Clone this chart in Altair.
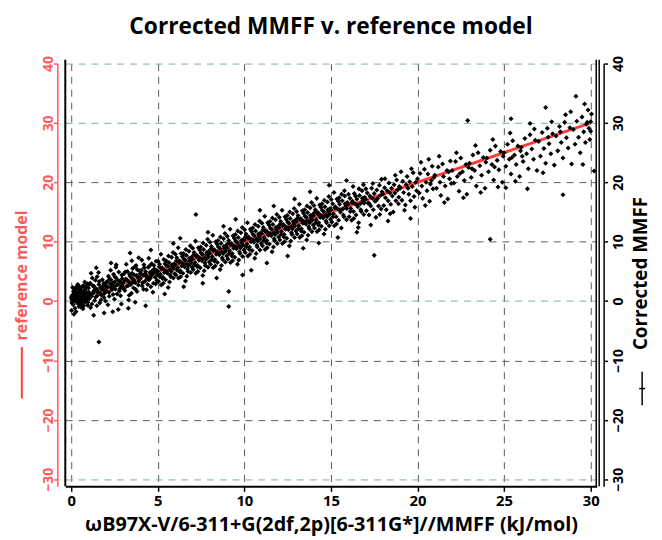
import altair as alt
import pandas as pd

TITLE = "Corrected MMFF v. reference model"
X_TITLE = "ωB97X-V/6-311+G(2df,2p)[6-311G*]//MMFF (kJ/mol)"
LEFT_TITLE = "reference model"
RIGHT_TITLE = "Corrected MMFF"
x_ticks = [0, 5, 10, 15, 20, 25, 30]
y_ticks = [-30, -20, -10, 0, 10, 20, 30, 40]

# reference model line
ref_x = [0, 30]
ref_y = [0, 30]

# Corrected MMFF points
pts_00 = [(0.05,0.2),(0.1,1.1),(0.12,-0.6),(0.15,0.5),(0.2,1.8),(0.22,-1.2),(0.25,0.9),(0.3,0.0),(0.3,2.4),(0.35,-0.3),(0.4,1.4),(0.42,0.6),(0.45,-0.9),(0.5,2.1),(0.5,0.3),(0.55,1.0),(0.6,-0.5),(0.6,1.7),(0.65,0.8),(0.7,2.6),(0.7,0.1),(0.75,1.3),(0.8,-0.2),(0.8,2.0),(0.85,0.7),(0.9,1.5),(0.95,-0.7),(0.95,2.9),(0.02,-1.6),(0.08,2.3),(0.18,0.0),(0.28,-1.8),(0.33,1.2),(0.38,2.8),(0.48,-0.1),(0.58,0.4),(0.68,-1.3),(0.78,3.2),(0.88,0.2),(0.98,1.0),(0.03,0.8),(0.13,1.6),(0.23,2.0),(0.43,-0.4),(0.53,1.5),(0.63,2.4),(0.73,-0.8),(0.83,1.1),(0.93,0.5),(0.04,-0.3),(0.16,-2.2),(0.26,1.4),(0.36,0.3),(0.46,2.5),(0.56,-1.0),(0.66,0.0),(0.76,0.9),(0.86,2.2),(0.96,-0.2),(0.01,0.5),(0.11,0.0),(0.21,0.7),(0.31,1.0),(0.41,2.0),(0.51,-0.6),(0.61,0.9),(0.71,1.6),(0.81,0.3),(0.91,2.7)]
pts_01 = [(1.0,2.2),(1.05,0.4),(1.1,3.0),(1.15,1.2),(1.2,-0.5),(1.25,2.6),(1.3,1.7),(1.35,0.1),(1.4,3.5),(1.45,2.0),(1.5,0.9),(1.5,4.1),(1.55,1.5),(1.6,2.8),(1.65,-0.3),(1.7,2.3),(1.75,1.0),(1.8,3.6),(1.85,1.9),(1.9,0.6),(1.95,2.7),(1.02,1.5),(1.12,-1.1),(1.22,3.9),(1.32,2.5),(1.42,0.7),(1.52,1.9),(1.62,3.3),(1.72,0.2),(1.82,2.5),(1.92,1.3),(1.08,2.9),(1.18,0.8),(1.28,1.4),(1.38,2.2),(1.48,-0.8),(1.58,4.8),(1.68,1.3),(1.78,2.0),(1.88,3.0),(1.98,0.0),(1.3,-2.4),(1.6,-6.9),(1.9,-2.0),(1.45,5.6),(1.15,4.7)]
pts_02 = [(2.0,3.1),(2.05,1.6),(2.1,2.4),(2.15,4.2),(2.2,0.8),(2.25,2.9),(2.3,6.4),(2.3,3.6),(2.35,1.9),(2.4,2.6),(2.45,4.5),(2.5,0.3),(2.5,3.2),(2.55,2.0),(2.6,3.9),(2.65,1.2),(2.7,2.8),(2.75,4.9),(2.8,3.4),(2.85,0.9),(2.9,2.5),(2.95,3.8),(2.02,2.2),(2.12,-0.6),(2.22,3.7),(2.32,2.3),(2.42,1.1),(2.52,4.1),(2.62,2.7),(2.72,-1.4),(2.82,2.1),(2.92,4.4),(2.08,3.3),(2.18,1.5),(2.28,5.2),(2.38,3.0),(2.48,2.2),(2.58,5.7),(2.68,3.5),(2.78,1.7),(2.88,3.1),(2.98,2.4),(2.4,-1.8),(2.9,-0.5),(2.6,6.1)]
pts_03 = [(3.0,3.0),(3.05,4.6),(3.1,1.8),(3.15,3.7),(3.2,2.5),(3.25,5.0),(3.3,3.3),(3.35,1.0),(3.4,8.1),(3.4,4.2),(3.45,2.8),(3.5,3.9),(3.55,5.5),(3.6,2.2),(3.65,4.4),(3.7,3.1),(3.75,6.0),(3.8,1.6),(3.85,4.0),(3.9,3.4),(3.95,5.1),(3.02,2.1),(3.12,4.9),(3.22,3.6),(3.32,0.2),(3.42,2.9),(3.52,4.7),(3.62,3.5),(3.72,2.0),(3.82,5.3),(3.92,3.9),(3.08,3.5),(3.18,6.2),(3.28,2.6),(3.38,4.5),(3.48,1.3),(3.58,3.2),(3.68,5.8),(3.78,4.3),(3.88,2.7),(3.98,4.6),(3.3,-1.2),(3.7,-0.2),(3.9,7.3),(3.5,6.8)]
pts_04 = [(4.0,3.8),(4.05,5.2),(4.1,2.6),(4.15,4.4),(4.2,6.1),(4.25,3.3),(4.3,5.0),(4.35,1.9),(4.4,4.1),(4.45,5.7),(4.5,3.6),(4.55,4.8),(4.6,2.4),(4.65,6.3),(4.7,4.5),(4.75,3.0),(4.8,5.4),(4.85,4.0),(4.9,6.7),(4.95,3.5),(4.02,4.7),(4.12,3.1),(4.22,5.6),(4.32,4.2),(4.42,2.8),(4.52,5.9),(4.62,4.3),(4.72,1.5),(4.82,4.9),(4.92,5.2),(4.08,6.9),(4.18,2.0),(4.28,4.6),(4.38,3.7),(4.48,7.2),(4.58,3.9),(4.68,5.1),(4.78,6.0),(4.88,2.9),(4.98,4.5),(4.3,-0.8),(4.6,8.6)]
pts_05 = [(5.0,5.0),(5.05,3.3),(5.1,6.2),(5.15,4.5),(5.2,2.7),(5.25,5.6),(5.3,4.0),(5.35,7.0),(5.4,5.2),(5.45,3.6),(5.5,6.0),(5.55,4.7),(5.6,2.3),(5.65,6.5),(5.7,5.3),(5.75,4.1),(5.8,7.4),(5.85,5.8),(5.9,3.9),(5.95,6.3),(5.02,6.7),(5.12,4.1),(5.22,5.4),(5.32,3.0),(5.42,6.3),(5.52,5.0),(5.62,7.6),(5.72,4.4),(5.82,6.1),(5.92,5.5),(5.08,5.8),(5.18,7.9),(5.28,3.8),(5.38,4.8),(5.48,6.8),(5.58,5.9),(5.68,3.2),(5.78,5.0),(5.88,8.2),(5.98,4.6),(5.9,9.7),(5.4,1.2)]
pts_06 = [(6.0,6.1),(6.05,4.4),(6.1,7.3),(6.15,5.6),(6.2,3.9),(6.25,6.8),(6.3,5.1),(6.35,8.0),(6.4,6.4),(6.45,4.7),(6.5,7.1),(6.55,5.8),(6.6,3.4),(6.65,7.7),(6.7,6.3),(6.75,5.0),(6.8,8.4),(6.85,6.8),(6.9,4.8),(6.95,7.4),(6.02,7.9),(6.12,5.2),(6.22,6.5),(6.32,4.1),(6.42,7.5),(6.52,6.1),(6.62,8.7),(6.72,5.4),(6.82,7.2),(6.92,6.4),(6.08,6.8),(6.18,9.0),(6.28,4.9),(6.38,5.9),(6.48,8.0),(6.58,6.9),(6.68,4.2),(6.78,6.0),(6.88,9.3),(6.98,5.7),(6.5,2.4),(6.3,10.6)]
pts_07 = [(7.0,7.0),(7.05,5.3),(7.1,8.2),(7.15,6.5),(7.2,4.7),(7.25,7.7),(7.3,6.0),(7.35,9.0),(7.4,7.3),(7.45,5.6),(7.5,8.1),(7.55,6.8),(7.6,4.3),(7.65,8.7),(7.7,7.3),(7.75,6.0),(7.8,9.4),(7.85,7.8),(7.9,5.7),(7.95,8.4),(7.02,8.9),(7.12,6.1),(7.22,7.5),(7.32,5.0),(7.42,8.6),(7.52,7.1),(7.62,9.8),(7.72,6.4),(7.82,8.2),(7.92,7.4),(7.08,7.8),(7.18,10.1),(7.28,5.8),(7.38,6.9),(7.48,9.1),(7.58,7.9),(7.68,5.1),(7.78,7.0),(7.88,10.4),(7.98,6.6),(7.2,14.6),(7.6,3.0),(7.9,11.6)]
pts_08 = [(8.0,8.0),(8.05,6.2),(8.1,9.2),(8.15,7.5),(8.2,5.6),(8.25,8.7),(8.3,7.0),(8.35,10.0),(8.4,8.3),(8.45,6.5),(8.5,9.1),(8.55,7.8),(8.6,5.3),(8.65,9.7),(8.7,8.3),(8.75,7.0),(8.8,10.5),(8.85,8.8),(8.9,6.6),(8.95,9.4),(8.02,9.9),(8.12,7.0),(8.22,8.5),(8.32,5.9),(8.42,9.6),(8.52,8.1),(8.62,10.8),(8.72,7.3),(8.82,9.2),(8.92,8.4),(8.08,8.8),(8.18,11.1),(8.28,6.7),(8.38,7.9),(8.48,10.2),(8.58,8.9),(8.68,6.0),(8.78,8.0),(8.88,11.4),(8.98,7.6),(8.4,3.9),(8.8,12.6)]
pts_09 = [(9.0,9.0),(9.05,7.1),(9.1,10.2),(9.15,8.5),(9.2,6.5),(9.25,9.7),(9.3,8.0),(9.35,11.0),(9.4,9.3),(9.45,7.4),(9.5,10.1),(9.55,8.8),(9.6,6.2),(9.65,10.7),(9.7,9.3),(9.75,8.0),(9.8,11.5),(9.85,9.8),(9.9,7.5),(9.95,10.4),(9.02,10.9),(9.12,8.0),(9.22,9.5),(9.32,6.8),(9.42,10.6),(9.52,9.1),(9.62,11.8),(9.72,8.3),(9.82,10.2),(9.92,9.4),(9.08,9.8),(9.18,12.1),(9.28,7.6),(9.38,8.9),(9.48,11.2),(9.58,9.9),(9.68,6.9),(9.78,9.0),(9.88,12.4),(9.98,8.6),(9.1,1.6),(9.1,-0.9),(9.9,4.4),(9.5,13.8)]
pts_10 = [(10.0,10.3),(10.05,8.2),(10.1,11.3),(10.15,9.6),(10.2,7.6),(10.25,10.8),(10.3,9.1),(10.35,12.1),(10.4,10.4),(10.45,8.5),(10.5,11.2),(10.55,9.9),(10.6,7.2),(10.65,11.8),(10.7,10.4),(10.75,9.1),(10.8,12.6),(10.85,10.9),(10.9,8.6),(10.95,11.5),(10.02,12.0),(10.12,9.1),(10.22,10.6),(10.32,7.9),(10.42,11.7),(10.52,10.2),(10.62,12.9),(10.72,9.4),(10.82,11.3),(10.92,10.5),(10.08,10.9),(10.18,13.2),(10.28,8.7),(10.38,10.0),(10.48,12.3),(10.58,11.0),(10.68,8.0),(10.78,10.1),(10.88,13.5),(10.98,9.7),(10.4,5.2),(10.9,15.3)]
pts_11 = [(11.0,11.4),(11.05,9.3),(11.1,12.4),(11.15,10.7),(11.2,8.7),(11.25,11.9),(11.3,10.2),(11.35,13.2),(11.4,11.5),(11.45,9.6),(11.5,12.3),(11.55,11.0),(11.6,8.3),(11.65,12.9),(11.7,11.5),(11.75,10.2),(11.8,13.7),(11.85,12.0),(11.9,9.7),(11.95,12.6),(11.02,13.1),(11.12,10.2),(11.22,11.7),(11.32,9.0),(11.42,12.8),(11.52,11.3),(11.62,14.0),(11.72,10.5),(11.82,12.4),(11.92,11.6),(11.08,12.0),(11.18,14.3),(11.28,9.8),(11.38,11.1),(11.48,13.4),(11.58,12.1),(11.68,9.1),(11.78,11.2),(11.88,14.6),(11.98,10.8),(11.3,6.4),(11.7,16.0)]
pts_12 = [(12.0,12.4),(12.05,10.3),(12.1,13.4),(12.15,11.7),(12.2,9.7),(12.25,12.9),(12.3,11.2),(12.35,14.2),(12.4,12.5),(12.45,10.6),(12.5,13.3),(12.55,12.0),(12.6,9.3),(12.65,13.9),(12.7,12.5),(12.75,11.2),(12.8,14.7),(12.85,13.0),(12.9,10.7),(12.95,13.6),(12.02,14.1),(12.12,11.2),(12.22,12.7),(12.32,10.0),(12.42,13.8),(12.52,12.3),(12.62,15.0),(12.72,11.5),(12.82,13.4),(12.92,12.6),(12.08,13.0),(12.18,15.3),(12.28,10.8),(12.38,12.1),(12.48,14.4),(12.58,13.1),(12.68,10.1),(12.78,12.2),(12.88,15.6),(12.98,11.8),(12.5,7.6),(12.9,17.2)]
pts_13 = [(13.0,13.4),(13.05,11.3),(13.1,14.4),(13.15,12.7),(13.2,10.7),(13.25,13.9),(13.3,12.2),(13.35,15.2),(13.4,13.5),(13.45,11.6),(13.5,14.3),(13.55,13.0),(13.6,10.3),(13.65,14.9),(13.7,13.5),(13.75,12.2),(13.8,15.7),(13.85,14.0),(13.9,11.7),(13.95,14.6),(13.02,15.1),(13.12,12.2),(13.22,13.7),(13.32,11.0),(13.42,14.8),(13.52,13.3),(13.62,16.0),(13.72,12.5),(13.82,14.4),(13.92,13.6),(13.08,14.0),(13.18,16.3),(13.28,11.8),(13.38,13.1),(13.48,15.4),(13.58,14.1),(13.68,11.1),(13.78,13.2),(13.88,16.6),(13.98,12.8),(13.4,8.9),(13.8,18.4)]
pts_14 = [(14.0,14.4),(14.05,12.3),(14.1,15.4),(14.15,13.7),(14.2,11.7),(14.25,14.9),(14.3,13.2),(14.35,16.2),(14.4,14.5),(14.45,12.6),(14.5,15.3),(14.55,14.0),(14.6,11.3),(14.65,15.9),(14.7,14.5),(14.75,13.2),(14.8,16.7),(14.85,15.0),(14.9,12.7),(14.95,15.6),(14.02,16.1),(14.12,13.2),(14.22,14.7),(14.32,12.0),(14.42,15.8),(14.52,14.3),(14.62,17.0),(14.72,13.5),(14.82,15.4),(14.92,14.6),(14.08,15.0),(14.18,17.3),(14.28,12.8),(14.38,14.1),(14.48,16.4),(14.58,15.1),(14.68,12.1),(14.78,14.2),(14.88,17.6),(14.98,13.8),(14.3,9.8),(14.9,19.5)]
pts_15 = [(15.0,15.4),(15.05,13.3),(15.1,16.4),(15.15,14.7),(15.2,12.7),(15.25,15.9),(15.3,14.2),(15.35,17.2),(15.4,15.5),(15.45,13.6),(15.5,16.3),(15.55,15.0),(15.6,12.3),(15.65,16.9),(15.7,15.5),(15.75,14.2),(15.8,17.7),(15.85,16.0),(15.9,13.7),(15.95,16.6),(15.02,17.1),(15.12,14.2),(15.22,15.7),(15.32,13.0),(15.42,16.8),(15.52,15.3),(15.62,18.0),(15.72,14.5),(15.82,16.4),(15.92,15.6),(15.18,18.3),(15.48,17.4),(15.78,18.6),(15.4,10.7),(15.9,20.3)]
pts_16 = [(16.0,16.3),(16.05,14.2),(16.1,17.3),(16.15,15.6),(16.2,13.6),(16.25,16.8),(16.3,15.1),(16.35,18.1),(16.4,16.4),(16.45,14.5),(16.5,17.2),(16.55,15.9),(16.6,13.2),(16.65,17.8),(16.7,16.4),(16.75,15.1),(16.8,18.6),(16.85,16.9),(16.9,14.6),(16.95,17.5),(16.02,18.0),(16.12,15.1),(16.22,16.6),(16.32,13.9),(16.42,17.7),(16.52,16.2),(16.62,18.9),(16.72,15.4),(16.82,17.3),(16.92,16.5),(16.28,19.3),(16.58,12.4),(16.88,19.6),(16.5,11.6)]
pts_17 = [(17.0,17.1),(17.05,15.2),(17.1,18.2),(17.15,16.5),(17.2,14.5),(17.25,17.7),(17.3,16.0),(17.35,19.0),(17.4,17.3),(17.45,15.4),(17.5,18.1),(17.55,16.8),(17.6,14.1),(17.65,18.7),(17.7,17.3),(17.75,16.0),(17.8,19.5),(17.85,17.8),(17.9,15.5),(17.95,18.4),(17.02,18.9),(17.22,16.4),(17.42,19.8),(17.62,17.0),(17.82,14.6),(17.92,20.5),(17.5,7.7),(17.3,12.8)]
pts_18 = [(18.0,18.0),(18.05,16.1),(18.1,19.1),(18.15,17.4),(18.2,15.4),(18.25,18.6),(18.3,16.9),(18.35,19.9),(18.4,18.2),(18.45,16.3),(18.5,19.0),(18.55,17.7),(18.6,15.0),(18.65,19.6),(18.7,18.2),(18.75,16.9),(18.8,20.4),(18.85,18.7),(18.9,16.4),(18.95,19.3),(18.12,20.6),(18.42,14.7),(18.72,21.2),(18.92,17.5),(18.3,13.5)]
pts_19 = [(19.0,19.0),(19.1,17.0),(19.15,20.2),(19.2,18.3),(19.3,16.2),(19.35,19.6),(19.4,21.0),(19.5,18.0),(19.55,20.1),(19.6,16.9),(19.7,19.3),(19.75,21.6),(19.8,17.6),(19.9,20.0),(19.95,18.6),(19.05,21.8),(19.25,15.3),(19.45,19.0),(19.65,22.3),(19.85,15.8),(19.6,13.9)]
pts_20 = [(20.0,20.6),(20.1,18.2),(20.15,21.5),(20.25,19.4),(20.3,17.3),(20.4,22.2),(20.5,20.0),(20.55,18.6),(20.6,21.4),(20.7,16.8),(20.75,19.7),(20.85,22.7),(20.9,18.9),(20.95,20.8),(20.2,23.4),(20.45,16.1),(20.65,23.9),(20.8,20.3)]
pts_21 = [(21.0,21.2),(21.1,19.0),(21.2,22.6),(21.3,20.0),(21.35,17.8),(21.45,23.1),(21.5,21.0),(21.6,19.4),(21.7,22.0),(21.75,17.2),(21.85,20.6),(21.9,23.6),(21.95,19.8),(21.25,24.4),(21.55,16.6),(21.8,21.8)]
pts_22 = [(22.0,22.0),(22.1,19.9),(22.2,23.5),(22.3,21.0),(22.4,18.5),(22.5,24.1),(22.6,21.8),(22.7,20.3),(22.8,23.0),(22.85,18.0),(22.95,22.5),(22.25,25.0),(22.65,17.4),(22.9,30.4),(22.45,21.5)]
pts_23 = [(23.0,23.2),(23.1,20.8),(23.2,24.6),(23.3,22.0),(23.4,19.4),(23.5,25.0),(23.6,22.8),(23.7,21.2),(23.8,24.2),(23.9,19.0),(23.35,26.2),(23.65,18.3),(23.95,23.4),(23.15,22.3)]
pts_24 = [(24.0,24.1),(24.1,21.8),(24.2,25.4),(24.3,23.0),(24.4,20.4),(24.5,26.1),(24.6,23.7),(24.7,22.1),(24.8,25.2),(24.9,20.0),(24.35,27.2),(24.65,19.2),(24.95,24.4),(24.2,10.4),(24.45,22.6)]
pts_25 = [(25.0,25.0),(25.1,22.7),(25.2,26.4),(25.3,23.9),(25.4,21.4),(25.5,27.0),(25.6,24.6),(25.7,23.0),(25.8,26.1),(25.9,21.0),(25.35,28.3),(25.65,20.2),(25.95,25.3),(25.1,19.1),(25.45,24.2)]
pts_26 = [(26.0,25.9),(26.1,23.5),(26.2,27.4),(26.3,24.8),(26.4,22.3),(26.5,28.0),(26.6,25.6),(26.7,23.9),(26.8,27.1),(26.9,22.0),(26.35,18.9),(26.5,29.9),(26.75,29.0),(26.05,24.4),(25.4,30.7)]
pts_27 = [(27.0,26.9),(27.1,24.4),(27.2,28.4),(27.3,25.7),(27.4,23.2),(27.5,29.1),(27.6,26.5),(27.7,24.8),(27.8,28.2),(27.9,22.9),(27.4,32.6),(27.75,30.2),(27.25,21.6),(27.55,27.6)]
pts_28 = [(28.0,27.8),(28.1,25.3),(28.2,29.4),(28.3,26.7),(28.4,24.1),(28.5,30.1),(28.6,27.5),(28.7,25.8),(28.8,29.2),(28.9,23.1),(28.4,17.9),(28.55,31.4),(28.85,31.9),(28.25,28.5)]
pts_29 = [(29.0,28.9),(29.1,26.4),(29.15,34.5),(29.2,30.3),(29.3,27.6),(29.4,25.0),(29.5,31.0),(29.55,23.0),(29.6,28.5),(29.7,26.7),(29.8,30.1),(29.85,32.2),(29.9,29.1),(29.95,27.2),(30.0,30.2),(30.0,28.6),(30.05,31.5),(30.2,21.9),(29.65,33.2),(29.75,29.8)]

all_bins = [pts_00, pts_01, pts_02, pts_03, pts_04, pts_05, pts_06, pts_07, pts_08, pts_09,
            pts_10, pts_11, pts_12, pts_13, pts_14, pts_15, pts_16, pts_17, pts_18, pts_19,
            pts_20, pts_21, pts_22, pts_23, pts_24, pts_25, pts_26, pts_27, pts_28, pts_29]
points = [p for b in all_bins for p in b]
df_pts = pd.DataFrame(points, columns=["x", "y"])
df_ref = pd.DataFrame({"x": ref_x, "y": ref_y})
one = pd.DataFrame({"d": [0]})

RED = "#ff5a5a"
LINE_RED = "#ff3d3d"
FONT = "Open Sans"
W, H = 538, 428

xscale = alt.Scale(domain=[-0.34, 30.35], nice=False, zero=False)
yscale = alt.Scale(domain=[-31.2, 40], nice=False, zero=False)

grid_color = {
    "condition": {"test": "datum.value == 20 || datum.value == 10 || datum.value == -10 || datum.value == -20",
                  "value": "#5a5a5a"},
    "value": "#7aacac",
}

x_axis = alt.Axis(
    values=x_ticks, orient="bottom", domainColor="black", domainWidth=2,
    tickColor="black", tickSize=5, tickWidth=1.5,
    labelFont=FONT, labelFontSize=15, labelFontWeight="bold", labelColor="black",
    labelAngle=0, labelPadding=2, labelFlush=False, labelOverlap=False,
    title=X_TITLE, titleFont=FONT, titleFontSize=20, titleFontWeight="bold",
    titleColor="black", titleY=45, titleBaseline="alphabetic",
    grid=True, gridColor="#5a5a5a", gridDash=[7, 6], gridWidth=1,
)

left_axis = alt.Axis(
    orient="left", values=y_ticks, offset=8,
    domainColor=RED, domainWidth=1.5, tickColor=RED, tickSize=4, tickWidth=1.5,
    labelColor=RED, labelFont=FONT, labelFontSize=14, labelFontWeight="bold",
    labelAngle=270, labelAlign="center", labelBaseline="alphabetic", labelPadding=1,
    labelFlush=False, labelOverlap=False,
    title=LEFT_TITLE, titleColor=RED, titleFont=FONT, titleFontSize=16, titleFontWeight="bold",
    titleAngle=270, titleX=-36, titleY=214, titleAlign="center", titleBaseline="middle",
    grid=True, gridColor=grid_color, gridDash=[7, 6], gridWidth=1,
)

right_axis = alt.Axis(
    orient="right", values=y_ticks, offset=7,
    domainColor="black", domainWidth=1.5, tickColor="black", tickSize=4, tickWidth=1.5,
    labelColor="black", labelFont=FONT, labelFontSize=14, labelFontWeight="bold",
    labelAngle=270, labelAlign="center", labelBaseline="top", labelPadding=4,
    labelFlush=False, labelOverlap=False,
    title=RIGHT_TITLE, titleColor="black", titleFont=FONT, titleFontSize=19, titleFontWeight="bold",
    titleAngle=270, titleX=37, titleY=212, titleAlign="center", titleBaseline="middle",
    grid=False,
)

line = alt.Chart(df_ref).mark_line(color=LINE_RED, strokeWidth=3).encode(
    x=alt.X("x:Q", scale=xscale, axis=x_axis),
    y=alt.Y("y:Q", scale=yscale, axis=left_axis),
)

pts = alt.Chart(df_pts).mark_point(filled=True, shape="diamond", size=26, color="black", opacity=1).encode(
    x=alt.X("x:Q", scale=xscale, axis=x_axis),
    y=alt.Y("y:Q", scale=yscale, axis=right_axis),
)

left_frame = alt.Chart(one).mark_rule(color="black", strokeWidth=2).encode(
    x=alt.value(0), y=alt.value(-4), y2=alt.value(H))
right_frame1 = alt.Chart(one).mark_rule(color="black", strokeWidth=1.5).encode(
    x=alt.value(W - 0.5), y=alt.value(-4), y2=alt.value(H))
right_frame2 = alt.Chart(one).mark_rule(color="black", strokeWidth=1.5).encode(
    x=alt.value(W + 2.5), y=alt.value(-4), y2=alt.value(H))

left_key = alt.Chart(one).mark_rule(color=LINE_RED, strokeWidth=2).encode(
    x=alt.value(-44), y=alt.value(287), y2=alt.value(339))
right_key = alt.Chart(one).mark_rule(color="black", strokeWidth=1.5).encode(
    x=alt.value(584), y=alt.value(312), y2=alt.value(346))
right_key_tick = alt.Chart(one).mark_rule(color="black", strokeWidth=1.5).encode(
    x=alt.value(581), x2=alt.value(587), y=alt.value(329))

title_text = alt.Chart(one).mark_text(
    text=TITLE, font=FONT, fontSize=23, fontWeight="bold", color="black",
    align="center", baseline="alphabetic",
).encode(x=alt.value(W / 2), y=alt.value(-30))

chart = alt.layer(
    line, pts, left_frame, right_frame1, right_frame2, left_key, right_key, right_key_tick, title_text
).resolve_scale(y="independent").properties(
    width=W, height=H,
    autosize=alt.AutoSizeParams(type="none"),
    padding={"left": 58, "top": 53, "right": 58, "bottom": 47},
    background="white",
).configure_view(stroke="transparent")

chart.save("out.html", embed_options={"renderer": "svg", "actions": False})
